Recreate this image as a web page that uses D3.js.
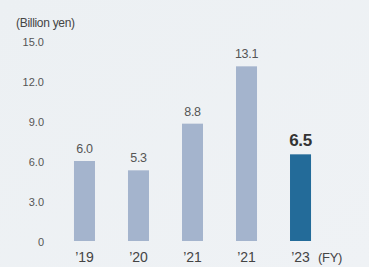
<!DOCTYPE html>
<html>
<head>
<meta charset="utf-8">
<script src="https://cdn.jsdelivr.net/npm/d3@7"></script>
<style>
  html, body { margin: 0; padding: 0; }
  body { width: 369px; height: 267px; overflow: hidden; font-family: "Liberation Sans", Arial, sans-serif; }
</style>
</head>
<body>
<div id="chart"></div>
<script>
const years = ["’19", "’20", "’21", "’21", "’23"];
const values = [6.0, 5.3, 8.8, 13.1, 6.5];
const yTicks = [0, 3, 6, 9, 12, 15];

const width = 369, height = 267;
const svg = d3.select('#chart').append('svg')
  .attr('width', width).attr('height', height);

// soft background gradient
const defs = svg.append('defs');
const grad = defs.append('linearGradient').attr('id', 'bg')
  .attr('x1', 0).attr('y1', 0).attr('x2', 1).attr('y2', 1);
grad.append('stop').attr('offset', '0%').attr('stop-color', '#ecf0f3');
grad.append('stop').attr('offset', '100%').attr('stop-color', '#eff2f5');
svg.append('rect').attr('width', width).attr('height', height).attr('fill', 'url(#bg)');

const x = d3.scaleBand().domain(d3.range(years.length))
  .range([57.5, 327.5]).paddingInner(0.611).paddingOuter(0.305);
const y = d3.scaleLinear().domain([0, 15]).range([241, 41]);

// y tick labels
svg.append('g').selectAll('text')
  .data(yTicks).enter().append('text')
  .attr('x', 44)
  .attr('y', d => y(d) + 1)
  .attr('dy', '0.35em')
  .attr('text-anchor', 'end')
  .attr('font-size', 11)
  .attr('fill', '#555')
  .text(d => d === 0 ? '0' : d3.format('.1f')(d));

svg.append('text')
  .attr('x', 16).attr('y', 27)
  .attr('font-size', 12)
  .attr('fill', '#444')
  .attr('letter-spacing', -0.3)
  .text('(Billion yen)');

// bars
const last = values.length - 1;
svg.append('g').selectAll('rect')
  .data(values).enter().append('rect')
  .attr('x', (d, i) => x(i))
  .attr('y', d => y(d))
  .attr('width', x.bandwidth())
  .attr('height', d => y(0) - y(d))
  .attr('fill', (d, i) => i === last ? '#236b99' : '#a4b4cd');

// value labels
svg.append('g').selectAll('text')
  .data(values).enter().append('text')
  .attr('x', (d, i) => x(i) + x.bandwidth() / 2)
  .attr('y', d => y(d) - 8)
  .attr('text-anchor', 'middle')
  .attr('font-size', (d, i) => i === last ? 17 : 12.5)
  .attr('font-weight', (d, i) => i === last ? 'bold' : 'normal')
  .attr('fill', (d, i) => i === last ? '#333' : '#555')
  .attr('letter-spacing', -0.3)
  .text(d => d3.format('.1f')(d));

// x labels
svg.append('g').selectAll('text')
  .data(years).enter().append('text')
  .attr('x', (d, i) => x(i) + x.bandwidth() / 2)
  .attr('y', 262)
  .attr('text-anchor', 'middle')
  .attr('font-size', 14)
  .attr('fill', '#444')
  .text(d => d);

svg.append('text')
  .attr('x', 318).attr('y', 262)
  .attr('font-size', 13)
  .attr('fill', '#444')
  .attr('letter-spacing', -0.3)
  .text('(FY)');
</script>
</body>
</html>
